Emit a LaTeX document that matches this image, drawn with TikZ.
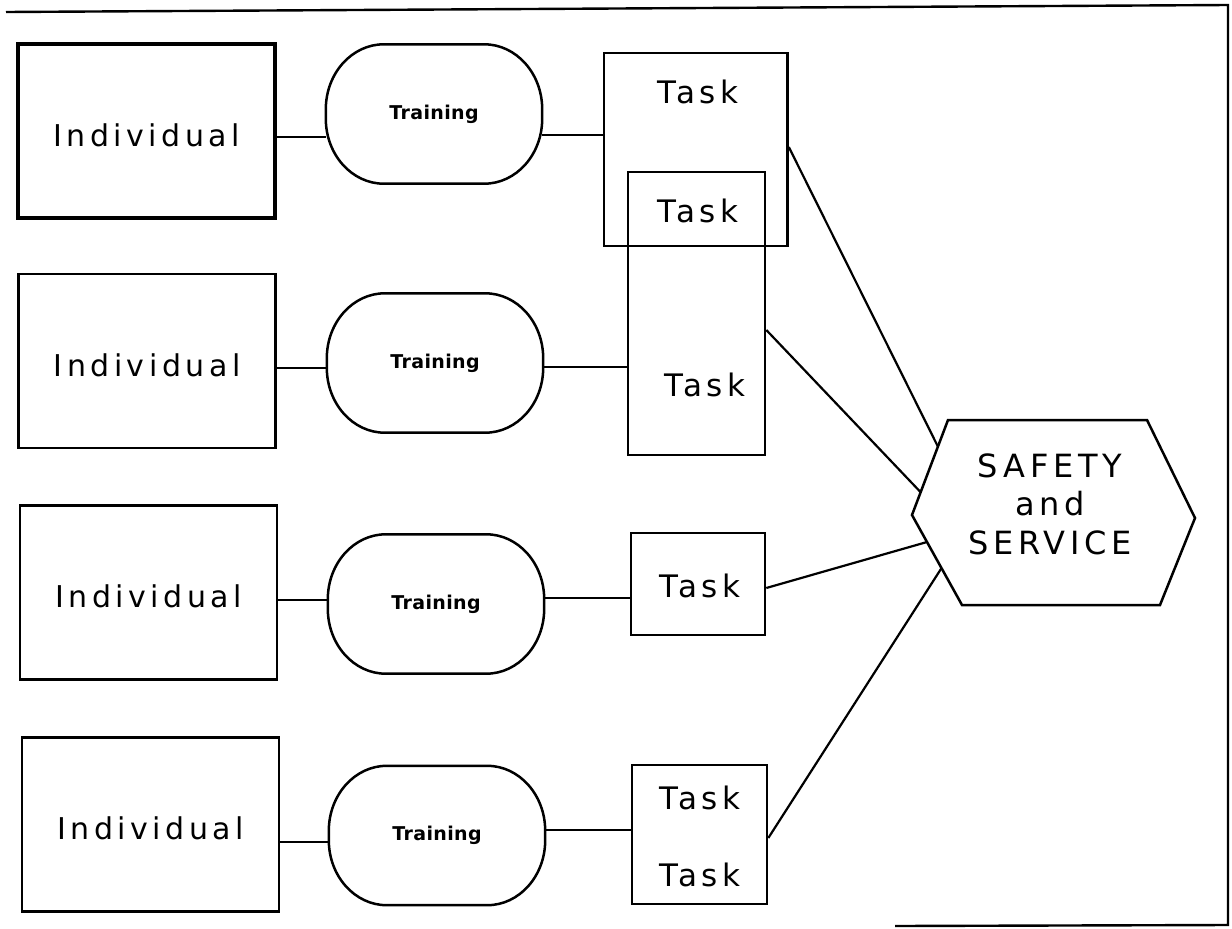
\documentclass[tikz,border=0pt]{standalone}
\usepackage{fontspec}
\setmainfont{DejaVu Sans}
\newfontfamily\wideface[LetterSpace=15]{DejaVu Sans}
\newfontfamily\trface[LetterSpace=2]{DejaVu Sans}
\usetikzlibrary{calc}
\newcommand\trshape[1]{%
  \draw[shapeline] ([xshift=-58pt]#1.north east)
    arc[start angle=90,end angle=0,x radius=58pt,y radius=65pt]
    -- ([yshift=65pt]#1.south east)
    arc[start angle=0,end angle=-90,x radius=58pt,y radius=65pt]
    -- ([xshift=58pt]#1.south west)
    arc[start angle=270,end angle=180,x radius=58pt,y radius=65pt]
    -- ([yshift=-65pt]#1.north west)
    arc[start angle=180,end angle=90,x radius=58pt,y radius=65pt] -- cycle;}
\begin{document}
\begin{tikzpicture}[x=1pt,y=-1pt,
  shapeline/.style={line width=2.5pt},
  box/.style={draw,line width=2.6pt,inner sep=0pt},
  indbox/.style={box,minimum width=257pt,minimum height=174pt,
    font=\wideface\fontsize{30}{36}\selectfont,text height=30pt,text depth=0pt},
  trbox/.style={inner sep=0pt,minimum width=216pt,minimum height=139pt,
    font=\trface\bfseries\fontsize{19}{22}\selectfont},
  taskbox/.style={box},
  tasktext/.style={inner sep=0pt,font=\wideface\fontsize{31}{36}\selectfont},
  hextext/.style={inner sep=0pt,align=center,font=\wideface\fontsize{32}{38.5}\selectfont},
  conn/.style={line width=2.2pt}]
\useasboundingbox (0,0) rectangle (1232,929);

% frame
\coordinate (fTL) at (6,12);
\coordinate (fTR) at (1228,5);
\coordinate (fBR) at (1228,925);
\coordinate (fBL) at (895,926);
\draw[line width=2.4pt] (fTL) -- (fTR) -- (fBR) -- (fBL);

% individuals
\node[indbox,line width=3.8pt] (ind1) at (146.5,131) {Individual};
\node[indbox] (ind2) at (147,361) {Individual};
\node[indbox] (ind3) at (148.5,592.5) {Individual};
\node[indbox] (ind4) at (150.5,824.5) {Individual};

% training
\node[trbox] (tr1) at (434,114) {Training};
\node[trbox] (tr2) at (435,363) {Training};
\node[trbox] (tr3) at (436,604) {Training};
\node[trbox] (tr4) at (437,835.5) {Training};
\trshape{tr1}
\trshape{tr2}
\trshape{tr3}
\trshape{tr4}

% tasks
\node[taskbox,minimum width=183.5pt,minimum height=193pt] (tA) at (695.75,149.5) {};
\node[taskbox,minimum width=137pt,minimum height=283pt] (tB) at (696.5,313.5) {};
\node[taskbox,minimum width=134pt,minimum height=102pt] (tC) at (698,584) {};
\node[taskbox,minimum width=135pt,minimum height=139pt] (tD) at (699.5,834.5) {};
\node[tasktext] (tA1) at (698,92) {Task};
\node[tasktext] (tB1) at (698,211) {Task};
\node[tasktext] (tB2) at (705,385) {Task};
\node[tasktext] (tC1) at (700,586) {Task};
\node[tasktext] (tD1) at (700,798) {Task};
\node[tasktext] (tD2) at (700,875) {Task};

% hexagon
\coordinate (hTL) at (948,420);
\coordinate (hTR) at (1147,420);
\coordinate (hR) at (1195,518);
\coordinate (hBR) at (1160,605);
\coordinate (hBL) at (962,605);
\coordinate (hL) at (912,515);
\draw[shapeline] (hTL) -- (hTR) -- (hR) -- (hBR) -- (hBL) -- (hL) -- cycle;
\node[hextext] (hex) at (1050,504) {SAFETY\\and\\SERVICE};
\coordinate (h1) at ($(hTL)!0.28!(hL)$);
\coordinate (h2) at ($(hTL)!0.76!(hL)$);
\coordinate (h3) at ($(hL)!0.3!(hBL)$);
\coordinate (h4) at ($(hL)!0.59!(hBL)$);

% connectors individual -> training
\draw[conn] ([yshift=-6pt]ind1.east) -- ([yshift=-6pt]ind1.east -| tr1.west);
\draw[conn] ([yshift=-7pt]ind2.east) -- ([yshift=-7pt]ind2.east -| tr2.west);
\draw[conn] ([yshift=-7.5pt]ind3.east) -- ([yshift=-7.5pt]ind3.east -| tr3.west);
\draw[conn] ([yshift=-17.5pt]ind4.east) -- ([yshift=-17.5pt]ind4.east -| tr4.west);

% connectors training -> task
\draw[conn] ([yshift=-21pt]tr1.east) -- ([yshift=-21pt]tr1.east -| tA.west);
\draw[conn] ([yshift=-4pt]tr2.east) -- ([yshift=-4pt]tr2.east -| tB.west);
\draw[conn] ([yshift=6pt]tr3.east) -- ([yshift=6pt]tr3.east -| tC.west);
\draw[conn] ([yshift=5.5pt]tr4.east) -- ([yshift=5.5pt]tr4.east -| tD.west);

% connectors task -> safety and service
\draw[conn] ([yshift=2.5pt]tA.east) -- (h1);
\draw[conn] ([yshift=-16.5pt]tB.east) -- (h2);
\draw[conn] ([yshift=-4pt]tC.east) -- (h3);
\draw[conn] ([yshift=-3.5pt]tD.east) -- (h4);
\end{tikzpicture}
\end{document}
